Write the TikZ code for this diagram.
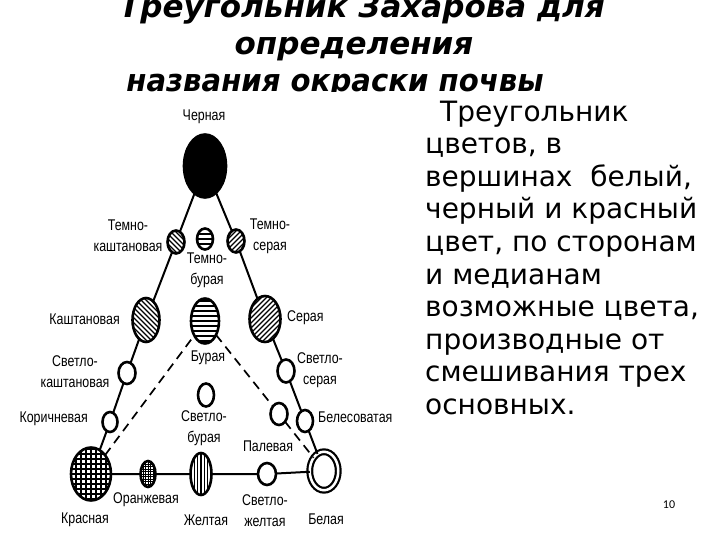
\documentclass[tikz,border=0pt]{standalone}
\usepackage{fontspec}
\setmainfont{DejaVu Sans}
\newfontfamily\labfont[FakeStretch=0.8]{Liberation Sans}
\newfontfamily\numfont{Carlito}
\usetikzlibrary{shapes.geometric}
\tikzset{
  soil/.style={ellipse, draw, line width=2.6pt, inner sep=0pt, outer sep=0pt, fill=white},
  sz/.style 2 args={minimum width=#1pt, minimum height=#2pt},
  lab/.style={font=\labfont\fontsize{15.5}{21}\selectfont, inner sep=0pt, align=center},
  conn/.style={line width=2pt},
  dconn/.style={line width=1.7pt, dash pattern=on 9pt off 6pt},
  hatchse/.style={path picture={\draw[line width=1.2pt, shift={(path picture bounding box.center)}]
      \foreach \i in {-70,-65,...,70} {(\i-40,-40) -- (\i+40,40)};}},
  hatchne/.style={path picture={\draw[line width=1.2pt, shift={(path picture bounding box.center)}]
      \foreach \i in {-70,-65,...,70} {(\i-40,40) -- (\i+40,-40)};}},
  hatchh/.style={path picture={\draw[line width=1.8pt, shift={(path picture bounding box.center)}]
      \foreach \i in {-30,-25,...,30} {(-40,\i) -- (40,\i)};}},
  hatchv/.style={path picture={\draw[line width=1.2pt, shift={(path picture bounding box.center)}]
      \foreach \i in {-10,...,10} {(\i*3.3,-40) -- (\i*3.3,40)};}},
  gridp/.style={path picture={\draw[line width=1.1pt, shift={(path picture bounding box.center)}]
      \foreach \i in {-6,...,6} {(\i*5,-40) -- (\i*5,40) (-40,\i*5) -- (40,\i*5)};}},
  densegrid/.style={path picture={\draw[line width=0.9pt, shift={(path picture bounding box.center)}]
      \foreach \i in {-8,...,8} {(\i*2.5,-40) -- (\i*2.5,40) (-40,\i*2.5) -- (40,\i*2.5)};}},
  title/.style={font=\fontsize{31}{37}\selectfont\bfseries\itshape, inner sep=0pt, anchor=base},
}
\begin{document}
\begin{tikzpicture}[x=1pt, y=-1pt]
\useasboundingbox[fill=white] (0,0) rectangle (720,540);

% title (clipped by the picture below it)
\begin{scope}
  \clip (0,0) rectangle (720,92);
  \node[title] (t1) at (362,18) {Треугольник Захарова для};
  \node[title] (t2) at (354,55) {определения};
  \node[title, xscale=0.94] (t3) at (335,92) {названия окраски почвы};
\end{scope}

% right text
\node[anchor=north west, align=left, inner sep=0pt,
      font=\fontsize{28}{32.6}\selectfont] (txt) at (425,100.5)
  {\hspace*{15pt}Треугольник\\цветов, в\\вершинах\ \ белый,\\черный и красный\\цвет, по сторонам\\и медианам\\возможные цвета,\\производные от\\смешивания трех\\основных.};

\node[font=\numfont\fontsize{12}{14}\selectfont, inner sep=0pt] (pg) at (669,505) {10};

% soil colour ellipses
\node[soil, sz={42}{63}, fill=black] (cher) at (205,166) {};
\node[soil, sz={17}{23}, hatchse] (tk) at (176,242) {};
\node[soil, sz={16}{21}, hatchh] (tb) at (205,239) {};
\node[soil, sz={17}{23}, hatchne] (ts) at (236,241) {};
\node[soil, sz={27}{44}, hatchse] (k) at (146,320) {};
\node[soil, sz={28}{45}, hatchh] (b) at (205,321) {};
\node[soil, sz={31}{46}, hatchne] (s) at (265,319) {};
\node[soil, sz={17}{22}] (sk) at (127,373) {};
\node[soil, sz={17}{23}] (ss) at (286,371) {};
\node[soil, sz={16}{23}] (sb) at (206,395) {};
\node[soil, sz={15}{20}] (kor) at (110,422) {};
\node[soil, sz={16}{22}] (bel) at (305,421) {};
\node[soil, sz={17}{22}] (pal) at (279,414) {};
\node[soil, sz={40}{53}, gridp] (kr) at (91,474) {};
\node[soil, sz={15}{26}, densegrid] (or) at (148,474) {};
\node[soil, sz={21}{42}, hatchv] (zh) at (201,474) {};
\node[soil, sz={18}{22}] (szh) at (267,474) {};
\node[soil, sz={28.5}{38.5}, line width=2.2pt, double=white, double distance=2.5pt] (wh) at (324,471) {};

% connectors
\draw[conn] (cher) -- (tk) -- (k) -- (sk) -- (kor) -- (kr);
\draw[conn] (cher) -- (ts) -- (s) -- (ss) -- (bel) -- (wh);
\draw[conn] (kr) -- (or) -- (zh) -- (szh) -- (wh);
\draw[dconn] (kr) -- (b);
\draw[dconn] (b) -- (pal) -- (wh);

% labels
\node[lab] (l1) at (204,117) {Черная};
\node[lab] (l2) at (128,236) {Темно-\\каштановая};
\node[lab] (l3) at (270,236) {Темно-\\серая};
\node[lab] (l4) at (207,270) {Темно-\\бурая};
\node[lab, anchor=east] (l5) at (120,319) {Каштановая};
\node[lab] (l6) at (208,358) {Бурая};
\node[lab, anchor=west] (l7) at (287,318) {Серая};
\node[lab] (l8) at (75,372) {Светло-\\каштановая};
\node[lab] (l9) at (320,370) {Светло-\\серая};
\node[lab] (l10) at (204,428) {Светло-\\бурая};
\node[lab, anchor=east] (l11) at (88,419) {Коричневая};
\node[lab, anchor=west] (l12) at (318,417) {Белесоватая};
\node[lab] (l13) at (268,446) {Палевая};
\node[lab] (l14) at (85,520) {Красная};
\node[lab] (l15) at (146,500) {Оранжевая};
\node[lab] (l16) at (206,520) {Желтая};
\node[lab] (l17) at (265,511) {Светло-\\желтая};
\node[lab] (l18) at (326,519) {Белая};
\end{tikzpicture}
\end{document}
